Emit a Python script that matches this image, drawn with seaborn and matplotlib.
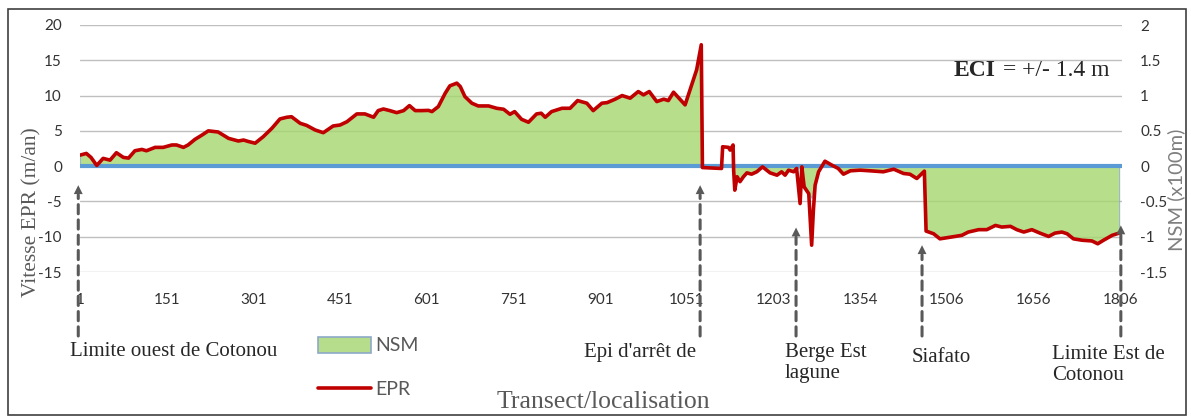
import numpy as np
import pandas as pd
import matplotlib
matplotlib.use("Agg")
import matplotlib.pyplot as plt
import seaborn as sns
from matplotlib.patches import Rectangle, Patch
from matplotlib.lines import Line2D
from matplotlib.ticker import FuncFormatter

# positions des transects (index de catégorie) et valeurs
transect_pos = [0, 11, 19, 29, 40, 52, 63, 75, 84, 95, 107, 115, 130, 144, 159, 167, 179, 187, 199, 211,
                222, 239, 257, 274, 283, 291, 303, 317, 332, 346, 358, 366, 381, 392, 407, 421, 438, 450,
                462, 479, 493, 508, 516, 525, 536, 548, 560, 570, 580, 591, 603, 609, 620, 632, 640, 652,
                658, 666, 678, 689, 707, 721, 733, 744, 752, 764, 776, 790, 798, 805, 816, 834, 848, 861,
                877, 888, 903, 912, 926, 938, 952, 966, 975, 985, 998, 1010, 1018, 1027, 1047, 1067, 1075,
                1077, 1110, 1112, 1122, 1125, 1130, 1131, 1133, 1137, 1142, 1148, 1154, 1162, 1171, 1181,
                1194, 1206, 1214, 1220, 1226, 1235, 1240, 1246, 1249, 1253, 1261, 1266, 1269, 1272, 1278,
                1289, 1301, 1312, 1321, 1333, 1350, 1367, 1390, 1408, 1425, 1436, 1448, 1454, 1461, 1464,
                1477, 1488, 1500, 1514, 1526, 1537, 1555, 1569, 1584, 1595, 1610, 1621, 1633, 1647, 1661,
                1676, 1687, 1699, 1708, 1719, 1734, 1751, 1761, 1771, 1786, 1798]

# vitesse EPR (m/an)
epr = [1.56, 1.8, 1.24, 0.1, 1.1, 0.85, 1.9, 1.24, 1.14, 2.18, 2.37, 2.18, 2.66, 2.66, 3.0, 3.0, 2.66, 3.0, 3.8, 4.4,
       5.0, 4.84, 3.94, 3.56, 3.7, 3.5, 3.25, 4.17, 5.36, 6.69, 6.93, 7.0, 6.07, 5.78, 5.12, 4.74, 5.69, 5.83,
       6.3, 7.4, 7.4, 6.93, 7.87, 8.1, 7.87, 7.58, 7.87, 8.58, 7.87, 7.87, 7.9, 7.73, 8.44, 10.34, 11.38, 11.76,
       11.28, 9.86, 8.92, 8.53, 8.53, 8.2, 8.06, 7.35, 7.73, 6.64, 6.22, 7.4, 7.5, 6.93, 7.73, 8.2, 8.2, 9.29,
       8.92, 7.87, 8.92, 9.0, 9.49, 10.0, 9.63, 10.57, 10.1, 10.57, 9.15, 9.49, 9.29, 10.48, 8.68, 13.66, 17.2,
       -0.2, -0.33, 2.75, 2.66, 2.27, 3.0, -0.57, -3.4, -1.5, -2.2, -1.5, -0.95, -1.14, -0.8, -0.1,
       -0.95, -1.28, -0.8, -1.28, -0.57, -0.8, -0.33, -5.3, -0.1, -2.94, -3.9, -11.2, -6.26, -2.7, -0.8,
       0.7, 0.14, -0.33, -1.14, -0.66, -0.57, -0.66, -0.8, -0.43, -1.04, -1.14, -1.75, -1.28, -0.71, -9.2,
       -9.58, -10.3, -10.15, -9.96, -9.8, -9.34, -9.0, -9.0, -8.4, -8.63, -8.53, -9.0, -9.34, -9.0, -9.49,
       -9.96, -9.49, -9.34, -9.58, -10.3, -10.5, -10.6, -11.0, -10.5, -9.8, -9.49]

# NSM (x100m)
nsm = [0.156, 0.18, 0.124, 0.01, 0.11, 0.085, 0.19, 0.124, 0.114, 0.218, 0.237, 0.218, 0.266, 0.266, 0.3, 0.3, 0.266, 0.3, 0.38, 0.44,
       0.5, 0.484, 0.394, 0.356, 0.37, 0.35, 0.325, 0.417, 0.536, 0.669, 0.693, 0.7, 0.607, 0.578, 0.512, 0.474, 0.569, 0.583,
       0.63, 0.74, 0.74, 0.693, 0.787, 0.81, 0.787, 0.758, 0.787, 0.858, 0.787, 0.787, 0.79, 0.773, 0.844, 1.034, 1.138, 1.176,
       1.128, 0.986, 0.892, 0.853, 0.853, 0.82, 0.806, 0.735, 0.773, 0.664, 0.622, 0.74, 0.75, 0.693, 0.773, 0.82, 0.82, 0.929,
       0.892, 0.787, 0.892, 0.9, 0.949, 1.0, 0.963, 1.057, 1.01, 1.057, 0.915, 0.949, 0.929, 1.048, 0.868, 1.366, 1.72,
       -0.01, -0.01, -0.01, -0.01, -0.01, -0.01, -0.03, -0.3, -0.15, -0.2, -0.15, -0.095, -0.114, -0.08, -0.01,
       -0.095, -0.128, -0.08, -0.128, -0.057, -0.08, -0.033, -0.03, -0.01, -0.25, -0.39, -0.45, -0.3, -0.27, -0.08,
       0.07, 0.014, -0.033, -0.114, -0.066, -0.057, -0.066, -0.08, -0.043, -0.104, -0.114, -0.175, -0.128, -0.071, -0.92,
       -0.958, -1.03, -1.015, -0.996, -0.98, -0.934, -0.9, -0.9, -0.84, -0.863, -0.853, -0.9, -0.934, -0.9, -0.949,
       -0.996, -0.949, -0.934, -0.958, -1.03, -1.05, -1.06, -1.1, -1.05, -0.98, -0.949]

tick_pos = [0, 150, 300, 450, 600, 750, 900, 1050, 1200, 1350, 1500, 1650, 1800]
tick_labels = ["1", "151", "301", "451", "601", "751", "901", "1051", "1203", "1354", "1506", "1656", "1806"]

# repères (position du transect, extrémité de la flèche en m/an)
rep_pos = [-3, 1073, 1239, 1457, 1801]
rep_tip = [-2.7, -2.7, -8.7, -11.2, -8.4]

df = pd.DataFrame({"pos": transect_pos, "EPR": epr, "NSM": nsm})

sns.set_style("white")
plt.rcParams["font.family"] = ["Lato", "DejaVu Sans"]

W, H = 1191, 417
fig = plt.figure(figsize=(W / 100, H / 100), dpi=100)


def fx(px):
    return px / W


def fy(py):
    return 1 - py / H


ax = fig.add_axes([fx(80), fy(272), fx(1122) - fx(80), fy(25) - fy(272)])
ax2 = ax.twinx()

# NSM en aire verte (axe de droite)
ax2.yaxis.grid(True, color="#BFBFBF", lw=1)
ax2.set_axisbelow(True)
ax2.fill_between(df["pos"], df["NSM"], 0, color="#A5D66E", alpha=0.8, edgecolor="#8EA9C8", lw=0.8, zorder=1)
ax2.axhline(0, color="#5B9BD5", lw=3, zorder=1.5)

# EPR en ligne rouge (axe de gauche, au-dessus)
ax.set_zorder(ax2.get_zorder() + 1)
ax.patch.set_visible(False)
sns.lineplot(data=df, x="pos", y="EPR", ax=ax, color="#C00000", lw=2.6, estimator=None, legend=False)

ax.set_xlim(0, 1803)
ax.set_ylim(-15, 20)
ax2.set_ylim(-1.5, 2)
ax.set_yticks(range(-15, 21, 5))
ax2.set_yticks(np.arange(-1.5, 2.01, 0.5))
ax.yaxis.set_major_formatter(FuncFormatter(lambda v, p: "%g" % v))
ax2.yaxis.set_major_formatter(FuncFormatter(lambda v, p: "%g" % v))
ax.set_xticks(tick_pos)
ax.set_xticklabels(tick_labels)
ax.grid(False)
ax.set_xlabel("")
ax.set_ylabel("")
for a in (ax, ax2):
    for s in a.spines.values():
        s.set_visible(False)
    a.tick_params(length=0, labelsize=11, labelcolor="#333333")
ax.tick_params(axis="y", pad=13)
ax2.tick_params(axis="y", pad=13)
ax.tick_params(axis="x", pad=15)

# flèches en pointillés
for p, t in zip(rep_pos, rep_tip):
    ax.annotate("", xy=(p, t), xycoords="data", xytext=(p, H - 336), textcoords=("data", "figure pixels"),
                arrowprops=dict(arrowstyle="-", ls=(0, (3, 2)), color="#595959", lw=2.2, shrinkA=0, shrinkB=7),
                annotation_clip=False)
    ax.annotate("", xy=(p, t), xycoords="data", xytext=(0, -10), textcoords="offset points",
                arrowprops=dict(arrowstyle="-|>", color="#595959", lw=0, mutation_scale=16, shrinkA=0, shrinkB=0),
                annotation_clip=False)

serif = ["Liberation Serif", "DejaVu Serif"]
fig.text(fx(174), fy(352), "Limite ouest de Cotonou", family=serif, fontsize=15, ha="center", va="center")
fig.text(fx(640), fy(352), "Epi d'arrêt de", family=serif, fontsize=15, ha="center", va="center")
fig.text(fx(785), fy(363), "Berge Est\nlagune", family=serif, fontsize=15, ha="left", va="center", linespacing=1.15)
fig.text(fx(912), fy(358), "Siafato", family=serif, fontsize=15, ha="left", va="center")
fig.text(fx(1052), fy(365), "Limite Est de\nCotonou", family=serif, fontsize=15, ha="left", va="center", linespacing=1.2)
fig.text(fx(603), fy(402), "Transect/localisation", family=serif, fontsize=18.5, color="#595959", ha="center", va="center")
fig.text(fx(32), fy(212), "Vitesse EPR (m/an)", family=serif, fontsize=15.5, color="#595959", rotation=90,
         ha="center", va="center")
fig.text(fx(1176), fy(190), "NSM (x100m)", fontsize=14.5, color="#7F7F7F", rotation=90, ha="center", va="center")
fig.text(fx(954), fy(71), "ECI", family=serif, fontsize=17, fontweight="bold", ha="left", va="center")
fig.text(fx(1003), fy(71), "= +/- 1.4 m", family=serif, fontsize=17, ha="left", va="center")

# légende
handles = [Patch(facecolor="#B6DD8C", edgecolor="#8EA9C8", lw=1.2),
           Line2D([0], [0], color="#C00000", lw=2.6)]
fig.legend(handles, ["NSM", "EPR"], loc="upper left", bbox_to_anchor=(fx(318), fy(337)), frameon=False,
           borderpad=0, borderaxespad=0, handlelength=2.7, handleheight=0.85, handletextpad=0.25,
           labelspacing=1.35, fontsize=14, labelcolor="#595959")

# cadre du graphique
fig.add_artist(Rectangle((fx(8), fy(415)), fx(1186) - fx(8), fy(9) - fy(415), transform=fig.transFigure,
                         fill=False, ec="#404040", lw=1.2))

fig.savefig("out.png", dpi=100)
